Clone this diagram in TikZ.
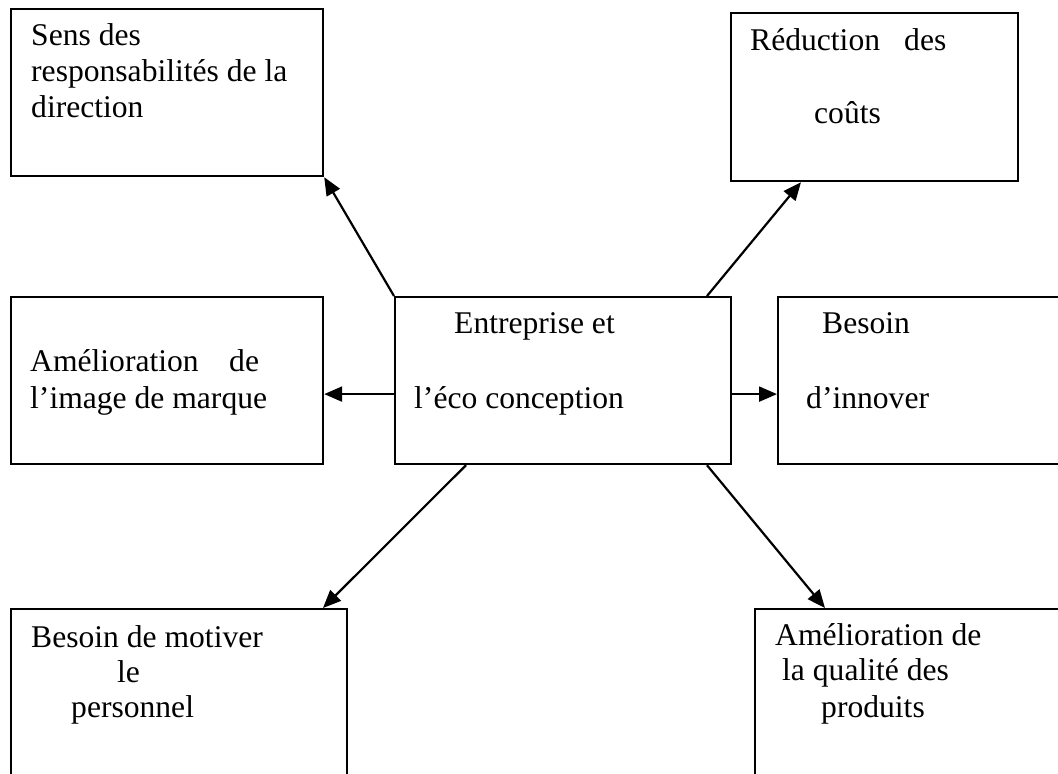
\documentclass[tikz,border=0pt]{standalone}
\usepackage{fontspec}
\setmainfont{Liberation Serif}
\usetikzlibrary{arrows.meta}
\begin{document}
\begin{tikzpicture}[x=1pt,y=-1pt,
  box/.style={draw, line width=2.2pt, rectangle, inner sep=0pt, anchor=north west},
  txt/.style={anchor=base west, inner sep=0pt, font=\fontsize{31.6}{36}\selectfont},
  link/.style={line width=2.2pt, -{Triangle[length=18pt,width=15pt]}}]
\useasboundingbox (0,0) rectangle (1058,774);
\clip (0,0) rectangle (1058,774);
\fill[white] (0,0) rectangle (1058,774);

% boxes
\node[box, minimum width=312pt, minimum height=167pt] (tl) at (10,8) {};
\node[box, minimum width=287pt, minimum height=168pt] (tr) at (730,12) {};
\node[box, minimum width=312pt, minimum height=167pt] (ml) at (10,296) {};
\node[box, minimum width=336pt, minimum height=167pt] (c)  at (394,296) {};
\node[box, minimum width=323pt, minimum height=167pt] (mr) at (777,296) {};
\node[box, minimum width=336pt, minimum height=220pt] (bl) at (10,608) {};
\node[box, minimum width=346pt, minimum height=220pt] (br) at (754,608) {};

% texts
\node[txt] (tla) at (31,45)  {Sens des};
\node[txt] (tlb) at (31,81)  {responsabilités de la};
\node[txt] (tlc) at (31,117) {direction};

\node[txt] (tra) at (750,50)  {Réduction};
\node[txt] (trb) at (904,50)  {des};
\node[txt] (trc) at (814,123) {coûts};

\node[txt] (mla) at (30,371) {Amélioration};
\node[txt] (mlb) at (229,371) {de};
\node[txt] (mlc) at (30,408) {l’image de marque};

\node[txt] (ca) at (454,333) {Entreprise et};
\node[txt] (cb) at (414,408) {l’éco conception};

\node[txt] (mra) at (822,333) {Besoin};
\node[txt] (mrb) at (806,408) {d’innover};

\node[txt] (bla) at (31,647) {Besoin de motiver};
\node[txt] (blb) at (117,682) {le};
\node[txt] (blc) at (71,717) {personnel};

\node[txt] (bra) at (775,645) {Amélioration de};
\node[txt] (brb) at (782,680) {la qualité des};
\node[txt] (brc) at (821,717) {produits};

% connectors
\draw[link] (c.north west) -- (tl.south east);
\draw[link] ([xshift=313pt]c.north west) -- ([xshift=71pt]tr.south west);
\draw[link] ([yshift=-13.5pt]c.west) -- ([yshift=-13.5pt]ml.east);
\draw[link] ([yshift=-13.5pt]c.east) -- ([yshift=-13.5pt]mr.west);
\draw[link] ([xshift=72pt]c.south west) -- ([xshift=313pt]bl.north west);
\draw[link] ([xshift=313pt]c.south west) -- ([xshift=71pt]br.north west);
\end{tikzpicture}
\end{document}
